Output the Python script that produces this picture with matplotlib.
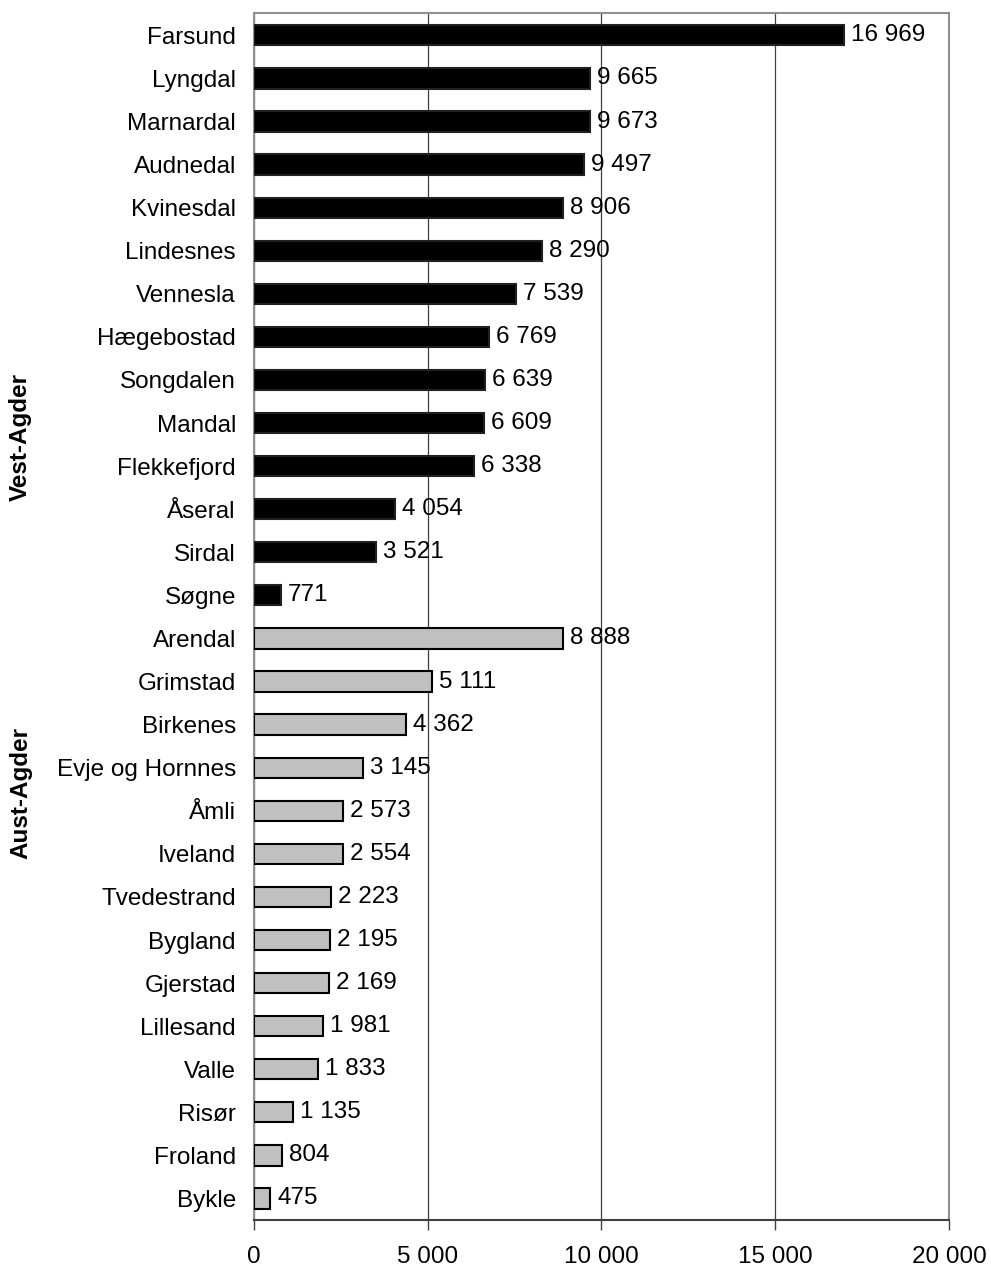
import matplotlib.pyplot as plt
import numpy as np

plt.rcParams["font.family"] = ["Liberation Sans", "DejaVu Sans"]

# Vest-Agder
vest_kommuner = ["Farsund", "Lyngdal", "Marnardal", "Audnedal", "Kvinesdal",
                 "Lindesnes", "Vennesla", "Hægebostad", "Songdalen", "Mandal",
                 "Flekkefjord", "Åseral", "Sirdal", "Søgne"]
vest_verdier = [16969, 9665, 9673, 9497, 8906, 8290, 7539, 6769, 6639, 6609,
                6338, 4054, 3521, 771]

# Aust-Agder
aust_kommuner = ["Arendal", "Grimstad", "Birkenes", "Evje og Hornnes", "Åmli",
                 "Iveland", "Tvedestrand", "Bygland", "Gjerstad", "Lillesand",
                 "Valle", "Risør", "Froland", "Bykle"]
aust_verdier = [8888, 5111, 4362, 3145, 2573, 2554, 2223, 2195, 2169, 1981,
                1833, 1135, 804, 475]

x_ticks = [0, 5000, 10000, 15000, 20000]


def fmt(v):
    return f"{v:,}".replace(",", " ")


fs = 17.5

fig = plt.figure(figsize=(9.91, 12.69), dpi=100)
ax = fig.add_axes([0.2563, 0.0386, 0.7013, 0.9512])

kommuner = vest_kommuner + aust_kommuner
verdier = vest_verdier + aust_verdier
pos = np.arange(len(kommuner))
farger = ["black"] * len(vest_kommuner) + ["#c0c0c0"] * len(aust_kommuner)
kanter = ["#202020"] * len(vest_kommuner) + ["black"] * len(aust_kommuner)

ax.barh(pos, verdier, height=0.47, color=farger, edgecolor=kanter,
        linewidth=1.5, zorder=3)

for p, v in zip(pos, verdier):
    ax.text(v + 200, p, fmt(v), va="center", ha="left", fontsize=fs, zorder=4)

ax.set_ylim(len(kommuner) - 0.5, -0.52)
ax.set_xlim(0, 20000)
ax.set_yticks(pos)
ax.set_yticklabels(kommuner, fontsize=fs)
ax.tick_params(axis="y", length=0, pad=13)
ax.set_xticks(x_ticks)
ax.set_xticklabels([fmt(t) for t in x_ticks], fontsize=fs)
ax.tick_params(axis="x", length=7, width=1, color="#404040", pad=12)

ax.grid(axis="x", color="#404040", linewidth=0.9, zorder=0)
for s in ["left", "top", "right"]:
    ax.spines[s].set_color("#909090")
    ax.spines[s].set_linewidth(1.5)
ax.spines["bottom"].set_color("#404040")
ax.spines["bottom"].set_linewidth(1.5)

fig.text(0.021, 1 - 437 / 1269, "Vest-Agder", rotation=90, fontsize=fs,
         fontweight="bold", ha="center", va="center")
fig.text(0.021, 1 - 793 / 1269, "Aust-Agder", rotation=90, fontsize=fs,
         fontweight="bold", ha="center", va="center")

fig.savefig("out.png", dpi=100)
